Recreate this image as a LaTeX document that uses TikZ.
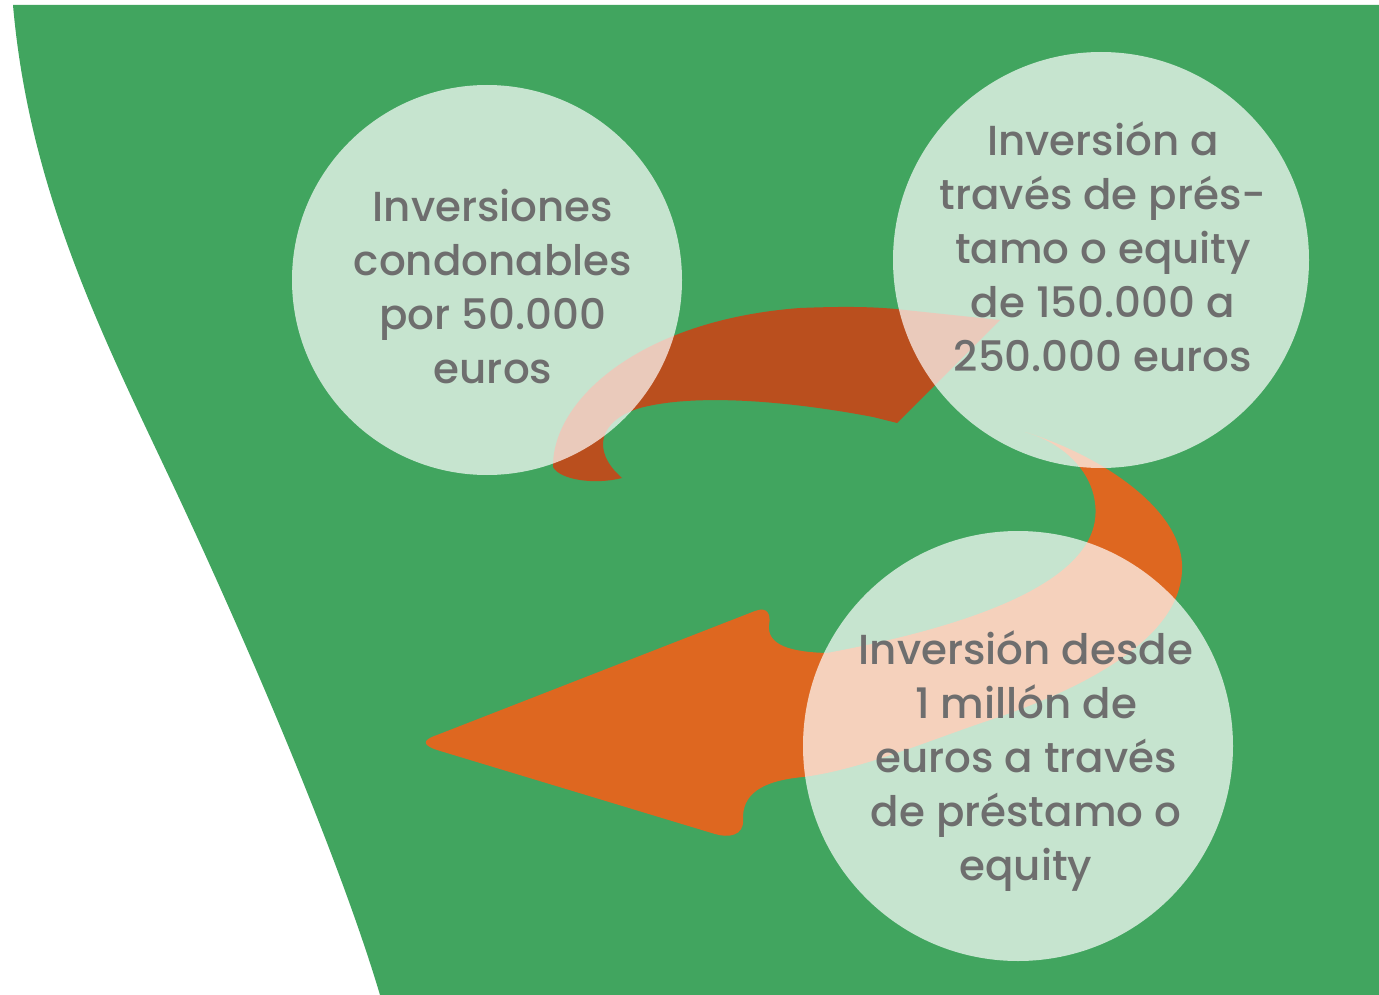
\documentclass[tikz,border=0pt]{standalone}
\usepackage{fontspec}
\IfFontExistsTF{Poppins Medium}{\setmainfont{Poppins Medium}}{\setmainfont{Poppins}}
\usepackage{tikz}
\usepackage{color}

\definecolor{fondo}{RGB}{65,165,95}
\definecolor{naranja}{RGB}{222,103,32}
\definecolor{teja}{RGB}{186,79,30}
\definecolor{gris}{RGB}{110,110,110}

\begin{document}
\begin{tikzpicture}[
x=1pt, y=-1pt,
bubble/.style={circle, fill=white, fill opacity=0.7, inner sep=0pt},
rotulo/.style={text=gris, align=center, inner sep=0pt, font=\fontsize{42}{54}\selectfont},
]
\useasboundingbox (0,0) rectangle (1379,995);
\fill[white] (0,0) rectangle (1379,995);

%Background
\fill[fondo] (13,5) -- (1379,5) -- (1379,995) -- (380,995)
  .. controls (340,860) and (250,650) .. (180,500)
  .. controls (110,350) and (30,200) .. (13,5) -- cycle;

%Arrows
\fill[teja] (553,467) .. controls (552,400) and (640,320) .. (800,308)
  .. controls (850,306) and (880,307) .. (905,310) -- (1000,320) -- (897,423) -- (873,417)
  .. controls (800,403) and (700,392) .. (640,408)
  .. controls (600,420) and (590,450) .. (622,478)
  .. controls (595,485) and (560,480) .. (553,467) -- cycle;

\fill[naranja] (1025,432) .. controls (1100,455) and (1185,510) .. (1182,570)
  .. controls (1180,640) and (1080,690) .. (990,720)
  .. controls (930,740) and (860,770) .. (803,777)
  .. controls (760,781) and (742,795) .. (743,820)
  .. controls (744,836) and (728,838) .. (715,834) -- (437,750)
  .. controls (422,745) and (422,740) .. (437,735) -- (755,611)
  .. controls (768,606) and (771,615) .. (769,625)
  .. controls (767,645) and (790,652) .. (827,653)
  .. controls (950,630) and (1085,590) .. (1095,520)
  .. controls (1100,480) and (1070,445) .. (1025,432) -- cycle;

%Nodes
\node[bubble, minimum size=390pt] (cond)   at (487,280) {};
\node[bubble, minimum size=416pt] (prest)  at (1101,260) {};
\node[bubble, minimum size=430pt] (millon) at (1018,746) {};

%Labels
\node[rotulo] (condtxt)   at ([shift={(6,7)}]cond)     {Inversiones\\condonables\\por 50.000\\euros};
\node[rotulo] (presttxt)  at ([shift={(2,-13)}]prest)  {Inversión a\\través de prés-\\tamo o equity\\de 150.000 a\\250.000 euros};
\node[rotulo] (millontxt) at ([shift={(8,15)}]millon)  {Inversión desde\\1 millón de\\euros a través\\de préstamo o\\equity};

\end{tikzpicture}
\end{document}
